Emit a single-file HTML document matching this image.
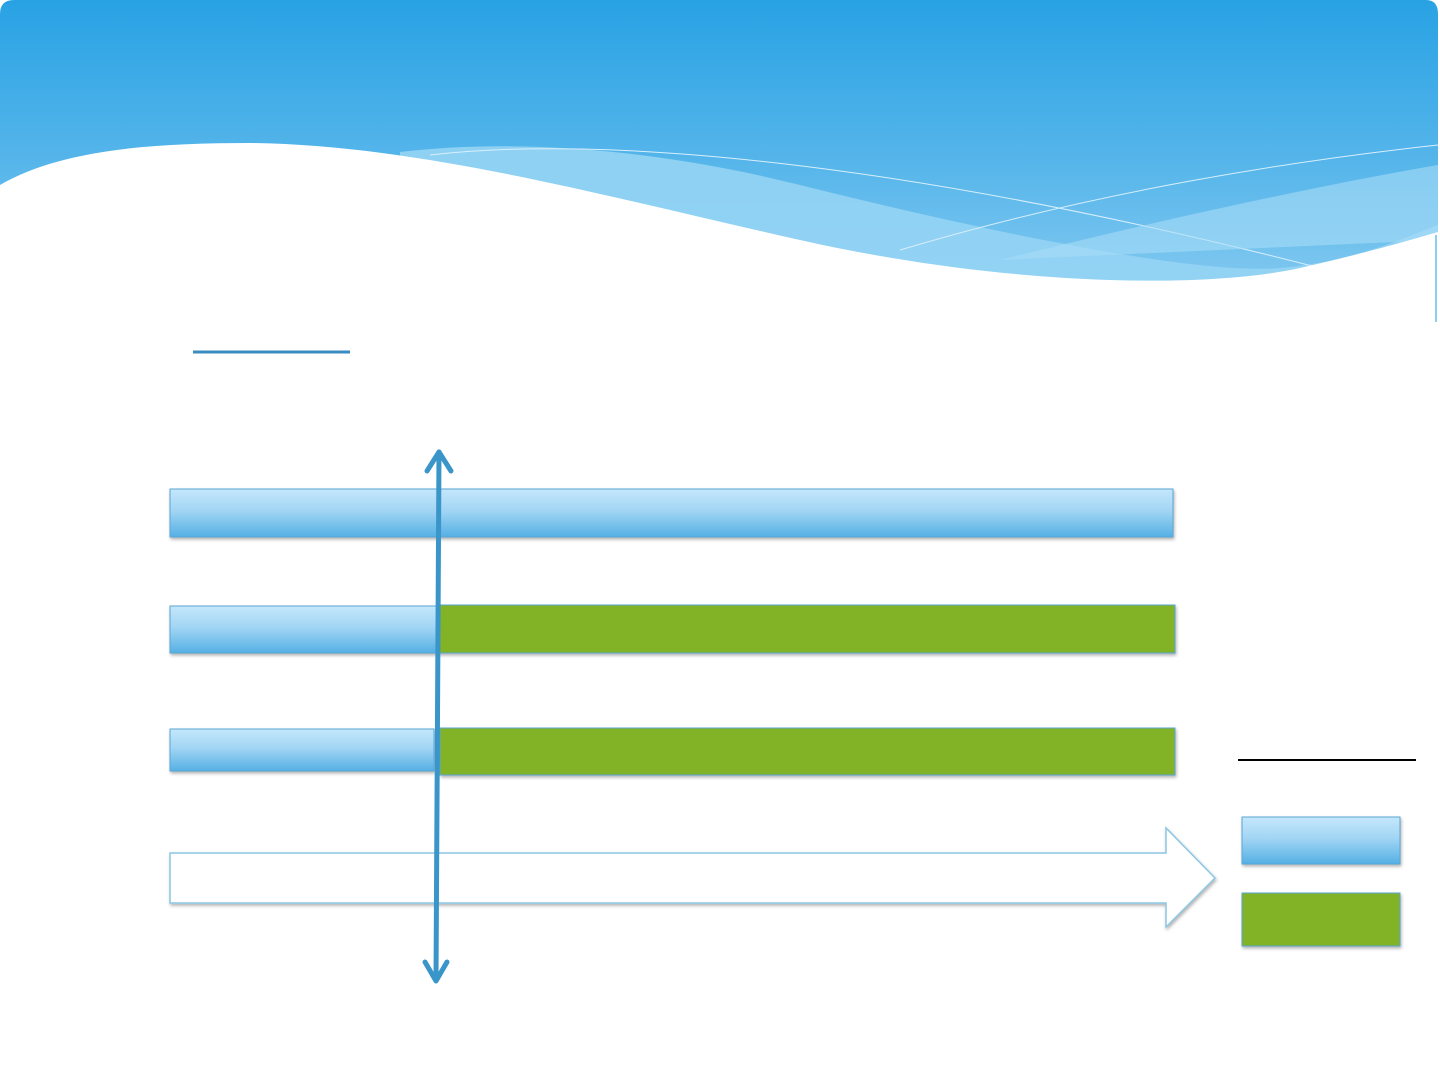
<!DOCTYPE html>
<html><head><meta charset="utf-8"><style>html,body{margin:0;padding:0;background:#fff;}svg{display:block}</style></head>
<body>
<svg width="1440" height="1080" viewBox="0 0 1440 1080" xmlns="http://www.w3.org/2000/svg">
<defs>
<linearGradient id="hdr" x1="0" y1="0" x2="0" y2="1">
<stop offset="0" stop-color="#28a2e4"/><stop offset="0.5" stop-color="#55b5ea"/><stop offset="1" stop-color="#8ccdf2"/>
</linearGradient>
<linearGradient id="bl" x1="0" y1="0" x2="0" y2="1">
<stop offset="0" stop-color="#c4e7fb"/><stop offset="0.45" stop-color="#a2d5f4"/><stop offset="1" stop-color="#55b0e4"/>
</linearGradient>
<filter id="sh" x="-5%" y="-30%" width="110%" height="170%"><feDropShadow dx="1" dy="2" stdDeviation="1.5" flood-color="#000" flood-opacity="0.3"/></filter>
</defs>
<path d="M0,14 Q0,0 14,0 L1426,0 Q1438,0 1438,14 L1438,320 L1426,320 L0,320 Z" fill="url(#hdr)"/>
<path d="M400,152 C520,138 660,150 800,185 C1000,235 1200,275 1280,268 C1350,262 1400,240 1438,225 L1438,320 L400,320 Z" fill="#95d4f4" opacity="0.9"/>
<path d="M900,250 C1100,190 1300,160 1438,145" fill="none" stroke="#d8effc" stroke-width="1"/>
<path d="M430,155 C600,135 900,160 1320,268" fill="none" stroke="#d8effc" stroke-width="1"/>
<path d="M1000,260 C1200,210 1350,180 1438,165 L1438,240 Z" fill="#a6dcf6" opacity="0.6"/>
<path d="M0,185 C60,150 150,143 250,143 C420,145 600,195 800,240 C1000,285 1200,290 1300,268 C1370,252 1410,240 1438,232 L1438,1080 L0,1080 Z" fill="#fff"/>
<line x1="1436" y1="235" x2="1436" y2="322" stroke="#8ccdf2" stroke-width="2"/>
<line x1="193" y1="352" x2="350" y2="352" stroke="#3a8cc0" stroke-width="3"/>
<g filter="url(#sh)" stroke="#5aa7d6" stroke-width="1">
<rect x="170" y="489" width="1003" height="48" fill="url(#bl)"/>
<rect x="170" y="606" width="267" height="47" fill="url(#bl)"/>
<rect x="437" y="605" width="738" height="48" fill="#82b227"/>
<rect x="170" y="729" width="264" height="42" fill="url(#bl)"/>
<rect x="440" y="728" width="735" height="47" fill="#82b227"/>
<rect x="1242" y="817" width="158" height="47" fill="url(#bl)"/>
<rect x="1242" y="893" width="158" height="53" fill="#82b227"/>
</g>
<path d="M170,853 L1166,853 L1166,828 L1215,878 L1166,927 L1166,903 L170,903 Z" fill="#fff" stroke="#8cc6e4" stroke-width="1.5" filter="url(#sh)"/>
<line x1="1238" y1="760" x2="1416" y2="760" stroke="#000" stroke-width="2"/>
<g stroke="#3a95c9" stroke-width="5" fill="none" stroke-linecap="round" stroke-linejoin="round">
<line x1="439" y1="452" x2="436" y2="980"/>
<polyline points="427,471 439,452 451,471"/>
<polyline points="425,962 436,981 447,962"/>
</g>
</svg>
</body></html>
